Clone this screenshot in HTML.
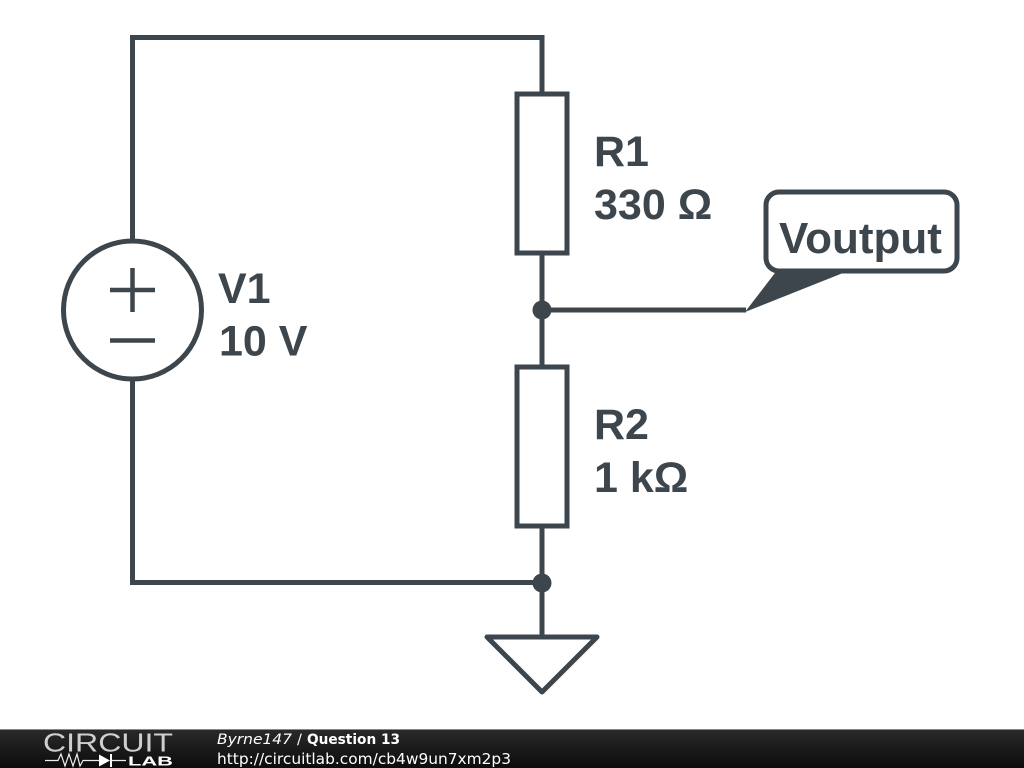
<!DOCTYPE html>
<html><head><meta charset="utf-8"><style>
html,body{margin:0;padding:0;background:#fff;width:1024px;height:768px;overflow:hidden}
svg{display:block}
</style></head><body>
<svg width="1024" height="768" viewBox="0 0 1024 768" xmlns="http://www.w3.org/2000/svg">
<defs><linearGradient id="g" x1="0" y1="0" x2="0" y2="1"><stop offset="0" stop-color="#2a2a2a"/><stop offset="1" stop-color="#0c0c0c"/></linearGradient></defs>
<rect width="1024" height="768" fill="#fff"/>
<g fill="none" stroke="#3d464c" stroke-width="5">
<path d="M132.500 241V37.500H542V94"/>
<path d="M132.500 379V582.500H542"/>
<rect x="517" y="94" width="50" height="159"/>
<rect x="517" y="367" width="50" height="159"/>
<path d="M542 253V367M542 526V637M542 310H746"/>
<circle cx="132.500" cy="310" r="69"/>
<path d="M110 290H155M132.500 268V312M110 340.500H155" stroke-width="4.500"/>
<path d="M487 637H597L542 692Z" stroke-linejoin="round"/>
<rect x="766" y="192" width="191" height="79" rx="13"/>
</g>
<circle cx="542" cy="310" r="9.500" fill="#3d464c"/>
<circle cx="542" cy="583" r="9.500" fill="#3d464c"/>
<path d="M745 312L776.500 271H848Z" fill="#3d464c"/>
<g font-family="'Liberation Sans',sans-serif" font-weight="700" font-size="43" fill="#3d464c">
<text x="594" y="166">R1</text>
<text x="594" y="219">330 Ω</text>
<text x="218" y="303">V1</text>
<text x="219" y="355.500">10 V</text>
<text x="594" y="439">R2</text>
<text x="594" y="492">1 kΩ</text>
<text x="779" y="253" font-size="44">Voutput</text>
</g>
<rect y="729" width="1024" height="39" fill="url(#g)"/>
<rect y="729" width="1024" height="1" fill="#8a8a8a"/>
<text x="43" y="751.500" font-family="'Liberation Sans',sans-serif" font-size="26" fill="#cfcfcf" textLength="130" lengthAdjust="spacingAndGlyphs">CIRCUIT</text>
<path d="M45 760.500H58L61 754L65 766L69 754L73 766L77 754L80 766L83 760.500H99M112 760.500H126" fill="none" stroke="#eee" stroke-width="1.200"/>
<path d="M99 754.500L110 760.500L99 766.500Z" fill="#fff"/>
<path d="M111 754V767" stroke="#fff" stroke-width="2"/>
<text x="128" y="765.500" font-family="'Liberation Sans',sans-serif" font-weight="700" font-size="13" fill="#fff" textLength="45" lengthAdjust="spacingAndGlyphs">LAB</text>
<g font-family="'DejaVu Sans',sans-serif" font-size="14.500" fill="#fff">
<text x="217" y="744" font-style="italic" textLength="75" lengthAdjust="spacingAndGlyphs">Byrne147</text>
<text x="297" y="744">/</text>
<text x="307" y="744" font-weight="700" textLength="93" lengthAdjust="spacingAndGlyphs">Question 13</text>
</g>
<text x="217" y="764" font-family="'DejaVu Sans',sans-serif" font-size="15.400" fill="#fff" textLength="294" lengthAdjust="spacingAndGlyphs">http://circuitlab.com/cb4w9un7xm2p3</text>
</svg>
</body></html>
